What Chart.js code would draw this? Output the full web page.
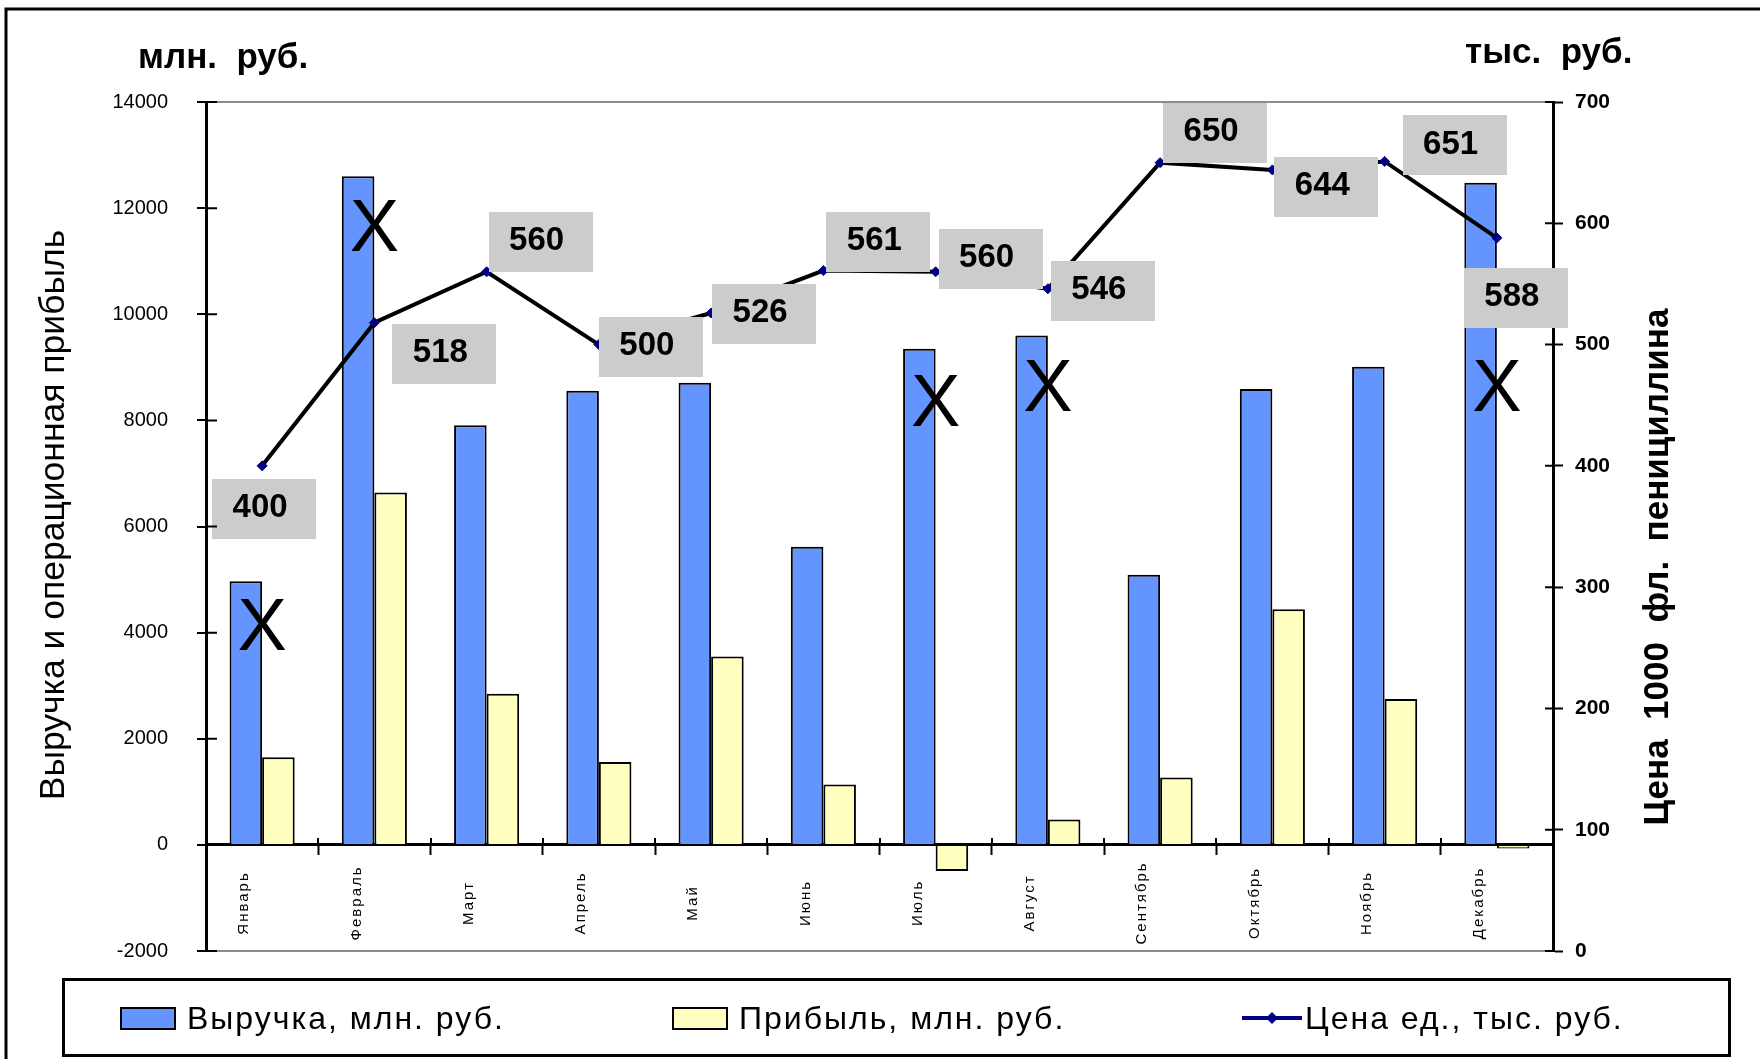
<!DOCTYPE html>
<html>
<head>
<meta charset="utf-8">
<script src="https://cdn.jsdelivr.net/npm/chart.js@4.4.1/dist/chart.umd.min.js"></script>
<style>
  html, body { margin: 0; padding: 0; background: #fff; }
  #wrap { position: relative; width: 1760px; height: 1059px; }
</style>
</head>
<body>
<div id="wrap"><canvas id="c" width="1760" height="1059"></canvas></div>
<script>
// ---- data ----
const months = ['Январь', 'Февраль', 'Март', 'Апрель', 'Май', 'Июнь', 'Июль', 'Август', 'Сентябрь', 'Октябрь', 'Ноябрь', 'Декабрь'];
const revenue = [4970, 12600, 7910, 8560, 8710, 5620, 9350, 9600, 5090, 8590, 9010, 12480];
const profit = [1650, 6640, 2850, 1560, 3550, 1140, -490, 480, 1270, 4440, 2750, -70];
const price = [400, 518, 560, 500, 526, 561, 560, 546, 650, 644, 651, 588];
const leftRange = [-2000, 14000, 2000];   // min, max, step (млн. руб.)
const rightRange = [0, 700, 100];         // min, max, step (тыс. руб.)
const seriesNames = ['Выручка, млн. руб.', 'Прибыль, млн. руб.', 'Цена ед., тыс. руб.'];
// months marked with a cross, and the cross height in left-axis units
const crossMonths = ['Январь', 'Февраль', 'Июль', 'Август', 'Декабрь'];
const crossLevels = [4170, 11700, 8400, 8680, 8680];

// ---- styling ----
const FONT = '"Liberation Sans", Arial, Helvetica, sans-serif';
const BLUE = '#6495FF';
const YELLOW = '#FFFFC0';
const NAVY = '#000080';
// position of each price tag relative to its point, px
const tagShift = [[2, 43], [70, 31], [54, -30], [52, 2], [53, 1], [55, -29], [55, -13], [55, 2], [55, -30], [54, 17], [70, -16], [19, 60]];

Chart.defaults.font.family = FONT;
Chart.defaults.color = '#000';

const framePlugin = {
  id: 'frame',
  beforeDraw(chart) {
    const ctx = chart.ctx;
    ctx.save();
    ctx.fillStyle = '#fff';
    ctx.fillRect(0, 0, chart.width, chart.height);
    ctx.strokeStyle = '#000';
    ctx.lineWidth = 3;
    ctx.strokeRect(6, 9, chart.width + 40, chart.height + 40);
    ctx.fillStyle = '#000';
    ctx.font = 'bold 35px ' + FONT;
    ctx.textAlign = 'left';
    ctx.textBaseline = 'alphabetic';
    ctx.fillText('млн.  руб.', 138, 68);
    ctx.fillText('тыс.  руб.', 1465, 63);
    // axis titles, both reading bottom to top
    ctx.textAlign = 'center';
    ctx.textBaseline = 'middle';
    ctx.save();
    ctx.translate(54, 515);
    ctx.rotate(-Math.PI / 2);
    ctx.font = '35.5px ' + FONT;
    ctx.fillText('Выручка и операционная прибыль', 0, 0);
    ctx.restore();
    ctx.save();
    ctx.translate(1658, 567);
    ctx.rotate(-Math.PI / 2);
    ctx.font = 'bold 35px ' + FONT;
    ctx.fillText('Цена  1000  фл.  пенициллина', 0, 0);
    ctx.restore();
    ctx.restore();
  }
};

// tick marks that cross the axis line (inner halves)
const innerTicksPlugin = {
  id: 'innerTicks',
  afterDraw(chart) {
    const ctx = chart.ctx;
    const {y, y1, x} = chart.scales;
    const area = chart.chartArea;
    ctx.save();
    ctx.strokeStyle = '#000';
    ctx.lineWidth = 2;
    ctx.beginPath();
    y.ticks.forEach((t, i) => {
      const py = y.getPixelForTick(i);
      ctx.moveTo(area.left, py); ctx.lineTo(area.left + 11, py);
    });
    y1.ticks.forEach((t, i) => {
      const py = y1.getPixelForTick(i);
      ctx.moveTo(area.right, py); ctx.lineTo(area.right - 8, py);
    });
    const zero = y.getPixelForValue(0);
    const half = (x.getPixelForValue(1) - x.getPixelForValue(0)) / 2;
    for (let i = 1; i < months.length; i++) {
      const px = Math.round(x.getPixelForValue(i) - half);
      ctx.moveTo(px, zero); ctx.lineTo(px, zero - 7);
    }
    ctx.stroke();
    ctx.restore();
  }
};

const monthLabelsPlugin = {
  id: 'monthLabels',
  afterDraw(chart) {
    const ctx = chart.ctx;
    const {x, y} = chart.scales;
    const mid = (y.getPixelForValue(0) + y.getPixelForValue(leftRange[0])) / 2 + 5;
    ctx.save();
    ctx.fillStyle = '#000';
    ctx.font = '15px ' + FONT;
    ctx.letterSpacing = '2px';
    ctx.textAlign = 'center';
    ctx.textBaseline = 'middle';
    months.forEach((m, i) => {
      ctx.save();
      ctx.translate(x.getPixelForValue(i) - 18, mid);
      ctx.rotate(-Math.PI / 2);
      ctx.fillText(m, 0, 0);
      ctx.restore();
    });
    ctx.restore();
  }
};

const priceTagsPlugin = {
  id: 'priceTags',
  afterDatasetsDraw(chart) {
    const ctx = chart.ctx;
    const meta = chart.getDatasetMeta(2);
    const w = 104, h = 60;
    ctx.save();
    ctx.font = 'bold 33px ' + FONT;
    ctx.textAlign = 'center';
    ctx.textBaseline = 'middle';
    meta.data.forEach((pt, i) => {
      const cx = pt.x + tagShift[i][0];
      const cy = pt.y + tagShift[i][1];
      ctx.fillStyle = '#CCCCCC';
      ctx.fillRect(Math.round(cx - w / 2), Math.round(cy - h / 2), w, h);
      ctx.fillStyle = '#000';
      ctx.fillText(String(price[i]), cx - 4, cy - 1);
    });
    // crosses over the marked months
    const {x, y} = chart.scales;
    ctx.font = '74px ' + FONT;
    ctx.textBaseline = 'alphabetic';
    crossMonths.forEach((m, k) => {
      const px = x.getPixelForValue(months.indexOf(m));
      const py = y.getPixelForValue(crossLevels[k]);
      ctx.fillText('X', px, py + 0.358 * 74);
    });
    ctx.restore();
  }
};

const legendBoxPlugin = {
  id: 'legendBox',
  afterDraw(chart) {
    const ctx = chart.ctx;
    const ds = chart.data.datasets;
    ctx.save();
    ctx.strokeStyle = '#000';
    ctx.lineWidth = 3;
    ctx.strokeRect(63.5, 979.5, 1666, 76);
    const base = 1029;
    ctx.font = '32px ' + FONT;
    ctx.letterSpacing = '2px';
    ctx.textAlign = 'left';
    ctx.textBaseline = 'alphabetic';
    ctx.fillStyle = '#000';
    // bar swatches
    [[121, 0], [673, 1]].forEach(([sx, k]) => {
      ctx.fillStyle = ds[k].backgroundColor;
      ctx.fillRect(sx, 1008, 54, 21);
      ctx.lineWidth = 2;
      ctx.strokeStyle = '#000';
      ctx.strokeRect(sx, 1008, 54, 21);
      ctx.fillStyle = '#000';
      ctx.fillText(ds[k].label, sx + 66, base);
    });
    // line swatch
    ctx.strokeStyle = NAVY;
    ctx.lineWidth = 4;
    ctx.beginPath();
    ctx.moveTo(1242, 1018); ctx.lineTo(1302, 1018);
    ctx.stroke();
    ctx.fillStyle = NAVY;
    ctx.beginPath();
    ctx.moveTo(1272, 1012); ctx.lineTo(1278, 1018); ctx.lineTo(1272, 1024); ctx.lineTo(1266, 1018);
    ctx.closePath(); ctx.fill();
    ctx.fillStyle = '#000';
    ctx.fillText(ds[2].label, 1305, base);
    ctx.restore();
  }
};

new Chart(document.getElementById('c'), {
  data: {
    labels: months,
    datasets: [
      { type: 'bar', label: seriesNames[0], data: revenue, yAxisID: 'y', order: 2,
        backgroundColor: BLUE, borderColor: '#000', borderWidth: 2,
        categoryPercentage: 0.58, barPercentage: 1 },
      { type: 'bar', label: seriesNames[1], data: profit, yAxisID: 'y', order: 2,
        backgroundColor: YELLOW, borderColor: '#000', borderWidth: 2,
        categoryPercentage: 0.58, barPercentage: 1 },
      { type: 'line', label: seriesNames[2], data: price, yAxisID: 'y1', order: 0,
        borderColor: '#000', borderWidth: 4, tension: 0,
        pointStyle: 'rectRot', pointRadius: 5, pointBorderWidth: 1,
        pointBackgroundColor: NAVY, pointBorderColor: NAVY }
    ]
  },
  options: {
    responsive: false,
    animation: false,
    events: [],
    layout: { padding: { top: 102, bottom: 108, left: 0, right: 0 } },
    plugins: { legend: { display: false }, title: { display: false }, tooltip: { enabled: false } },
    scales: {
      x: {
        type: 'category',
        position: { y: 0 },
        offset: true,
        grid: { drawOnChartArea: false, offset: true, tickLength: 9, tickWidth: 2, tickColor: '#000', color: '#000' },
        border: { display: true, color: '#000', width: 3 },
        ticks: { display: false },
        afterFit(s) { s.height = 0; }
      },
      y: {
        position: 'left',
        min: leftRange[0], max: leftRange[1],
        ticks: { stepSize: leftRange[2], padding: 29, font: { size: 20 }, color: '#000', callback: v => String(v) },
        grid: {
          drawOnChartArea: true,
          color: c => (c.tick && (c.tick.value === leftRange[0] || c.tick.value === leftRange[1])) ? '#8c8c8c' : 'rgba(0,0,0,0)',
          lineWidth: 2, tickLength: 9, tickWidth: 2, tickColor: '#000'
        },
        border: { display: true, color: '#000', width: 3 },
        afterFit(s) { s.width = 206; }
      },
      y1: {
        position: 'right',
        min: rightRange[0], max: rightRange[1],
        ticks: { stepSize: rightRange[2], padding: 12, font: { size: 21, weight: 'bold' }, color: '#000', callback: v => String(v) },
        grid: { drawOnChartArea: false, tickLength: 10, tickWidth: 2, tickColor: '#000' },
        border: { display: true, color: '#000', width: 3 },
        afterFit(s) { s.width = 207; }
      }
    }
  },
  plugins: [framePlugin, innerTicksPlugin, priceTagsPlugin, monthLabelsPlugin, legendBoxPlugin]
});
</script>
</body>
</html>
